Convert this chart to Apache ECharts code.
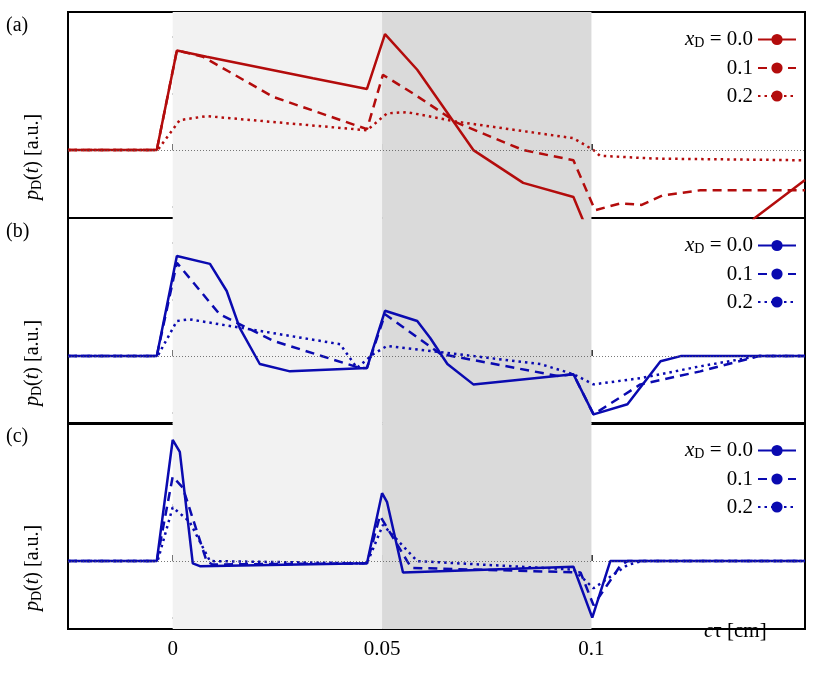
<!DOCTYPE html>
<html>
<head>
<meta charset="UTF-8">
<script src="https://cdn.jsdelivr.net/npm/echarts@6/dist/echarts.min.js"></script>
</head>
<body style="margin:0">
<div id="container" style="width:830px;height:684px"></div>
<script>
// curves: [c*tau in cm, p_D in a.u.]
var a0 = [[-0.025,0],[-0.0038,0],[0.001,1.76],[0.0081,1.65],[0.0335,1.27],[0.0464,1.08],[0.0507,2.05],[0.0584,1.42],[0.0718,0],[0.0837,-0.58],[0.0957,-0.83],[0.098,-1.24],[0.105,-2.5],[0.125,-2.5],[0.139,-1.2],[0.151,-0.53]];
var a1 = [[-0.025,0],[-0.0038,0],[0.001,1.76],[0.0072,1.65],[0.024,0.94],[0.0464,0.37],[0.0502,1.33],[0.0574,1.0],[0.068,0.48],[0.0837,0],[0.0957,-0.18],[0.1005,-1.0],[0.101,-1.06],[0.107,-0.94],[0.112,-0.97],[0.117,-0.8],[0.126,-0.71],[0.151,-0.71]];
var a2 = [[-0.025,0],[-0.0036,0],[0.0017,0.53],[0.0081,0.6],[0.0464,0.35],[0.0512,0.65],[0.056,0.67],[0.068,0.5],[0.0957,0.21],[0.1005,0],[0.102,-0.1],[0.115,-0.15],[0.151,-0.18]];
var b0 = [[-0.025,0],[-0.0038,0],[0.001,1.77],[0.0089,1.63],[0.0129,1.15],[0.016,0.5],[0.0208,-0.14],[0.028,-0.27],[0.0464,-0.21],[0.0507,0.8],[0.0584,0.62],[0.0615,0.32],[0.0656,-0.14],[0.0718,-0.5],[0.0957,-0.32],[0.1005,-1.03],[0.1086,-0.85],[0.1165,-0.09],[0.1213,0],[0.151,0]];
var b1 = [[-0.025,0],[-0.0038,0],[0.001,1.65],[0.0112,0.74],[0.024,0.27],[0.0447,-0.21],[0.0464,-0.21],[0.0507,0.74],[0.0639,0.04],[0.0919,-0.35],[0.0957,-0.32],[0.1005,-1.03],[0.1117,-0.5],[0.126,-0.27],[0.14,0],[0.151,0]];
var b2 = [[-0.025,0],[-0.0036,0],[0.001,0.62],[0.004,0.65],[0.04,0.21],[0.044,-0.21],[0.0478,0.03],[0.0512,0.18],[0.0878,-0.14],[0.0957,-0.32],[0.1005,-0.5],[0.1117,-0.39],[0.126,-0.18],[0.14,0],[0.151,0]];
var c0 = [[-0.025,0],[-0.0038,0],[0,2.14],[0.0017,1.93],[0.0048,-0.04],[0.0065,-0.09],[0.0464,-0.04],[0.05,1.2],[0.0512,1.04],[0.055,-0.2],[0.0957,-0.1],[0.1002,-1.0],[0.1045,0],[0.151,0]];
var c1 = [[-0.025,0],[-0.0038,0],[0,1.49],[0.0024,1.3],[0.0081,0],[0.0095,-0.06],[0.0464,-0.04],[0.0495,0.8],[0.056,0],[0.057,-0.12],[0.0974,-0.2],[0.1005,-0.78],[0.107,-0.07],[0.1086,0],[0.151,0]];
var c2 = [[-0.025,0],[-0.0036,0],[0,0.95],[0.004,0.7],[0.0089,0],[0.0464,-0.04],[0.0502,0.64],[0.0584,0],[0.0957,-0.15],[0.1005,-0.48],[0.1086,-0.07],[0.112,0],[0.151,0]];
var xTicks = [0, 0.05, 0.1];
var yTicks = [-1, 0, 1, 2];
var panelNotes = [['-0.2','0.76'],['-1.0','11.4'],['-5.0','19.0']];

var red = '#b30c0c', blue = '#0a0ab0';
var F = 'Liberation Serif';
var tops = [12, 218, 423];
var sets = [[a0,a1,a2],[b0,b1,b2],[c0,c1,c2]];
var colors = [red, blue, blue];
var dashes = ['solid', [9,6], [2.5,4]];
var xdLabels = ['0.0','0.1','0.2'];

var grids = [], xAxes = [], yAxes = [], series = [], legends = [], graphics = [];
for (var p = 0; p < 3; p++) {
    grids.push({left:68, right:25, top:tops[p], height:206, show:true, borderColor:'#000', borderWidth:2, backgroundColor:'transparent'});
    xAxes.push({type:'value', gridIndex:p, min:-0.025, max:0.151, splitLine:{show:false},
        axisLine:{show:false},
        axisTick:{show:true, inside:true, length:6, lineStyle:{color:'#000', width:1.5}, customValues:xTicks},
        axisLabel:{show:p==2, customValues:xTicks, fontFamily:F, fontSize:21, color:'#000', margin:10,
            formatter:function(v){ return v===0?'0':String(v); }}});
    yAxes.push({type:'value', gridIndex:p, min:-1.2, max:2.44, splitLine:{show:false},
        axisLine:{show:false},
        axisTick:{show:true, inside:true, length:6, lineStyle:{color:'#000', width:1.5}, customValues:yTicks},
        axisLabel:{show:false}});
    // shading and zero line live in a background series under the frame
    series.push({type:'line', xAxisIndex:p, yAxisIndex:p, data:[], z:-1, silent:true,
        markArea:{silent:true, data:[
            [{xAxis:0, itemStyle:{color:'#f2f2f2'}},{xAxis:0.05}],
            [{xAxis:0.05, itemStyle:{color:'#dadada'}},{xAxis:0.1}]]},
        markLine:{silent:true, symbol:'none', label:{show:false},
            lineStyle:{color:'#555', width:0.8, type:[1,2]}, data:[{yAxis:0}]}});
    var names = [];
    for (var k = 0; k < 3; k++) {
        var nm = 's' + p + k;
        names.push(nm);
        series.push({name:nm, type:'line', xAxisIndex:p, yAxisIndex:p, data:sets[p][k], showSymbol:false, symbol:'none',
            clip:true, lineStyle:{color:colors[p], width:2.5, type:dashes[k]}, itemStyle:{color:colors[p]}, z:3});
    }
    legends.push({data:names, orient:'vertical', right:28, top:tops[p]+12, align:'right', itemWidth:38, itemHeight:14, itemGap:7,
        selectedMode:false,
        textStyle:{fontFamily:F, fontSize:21, color:'#000', rich:{i:{fontFamily:F, fontStyle:'italic', fontSize:21}, s:{fontFamily:F, fontSize:14, verticalAlign:'bottom', padding:[8,0,0,0]}}},
        formatter:function(n){ var k = +n.charAt(2); return k==0 ? '{i|x}{s|D} = 0.0' : xdLabels[k]; }});
    graphics.push({type:'text', left:470, top:tops[p]+16, style:{
        text:'{i|z}{s|D} = ' + panelNotes[p][0] + '\n{i|D} = ' + panelNotes[p][1],
        font:'21px "' + F + '"', fill:'#000', lineHeight:26,
        rich:{i:{font:'italic 21px "' + F + '"'}, s:{font:'14px "' + F + '"', verticalAlign:'bottom', padding:[8,0,0,0]}}}});
    graphics.push({type:'text', left:6, top:tops[p]+4, style:{text:'(' + 'abc'.charAt(p) + ')', font:'20px "' + F + '"', fill:'#000'}});
    graphics.push({type:'text', x:22, y:tops[p]+188, rotation:Math.PI/2, style:{
        text:'{i|p}{s|D}({i|t}) [a.u.]', font:'20px "' + F + '"', fill:'#000',
        rich:{i:{font:'italic 20px "' + F + '"'}, s:{font:'14px "' + F + '"', verticalAlign:'bottom', padding:[8,0,0,0]}}}});
}
graphics.push({type:'text', left:704, top:621, style:{text:'{i|c}τ [cm]', font:'21px "' + F + '"', fill:'#000',
    rich:{i:{font:'italic 21px "' + F + '"'}}}});

var myChart = echarts.init(document.getElementById('container'));
var option = {
    animation:false,
    backgroundColor:'#fff',
    grid:grids, xAxis:xAxes, yAxis:yAxes, series:series, legend:legends, graphic:graphics
};
myChart.setOption(option);
</script>
</body>
</html>
